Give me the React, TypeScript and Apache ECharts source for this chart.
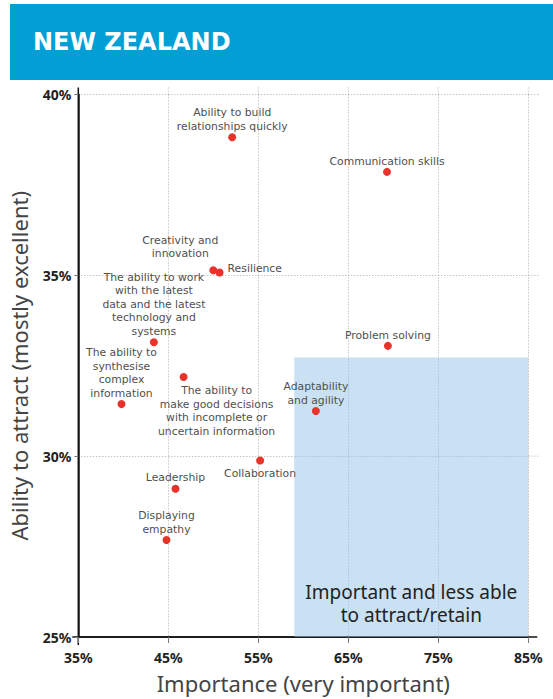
import React, { useEffect, useRef } from "react";
import * as echarts from "echarts";

// ---- data ----
const skills = [
  "Ability to build\nrelationships quickly",
  "Communication skills",
  "Creativity and\ninnovation",
  "Resilience",
  "The ability to work\nwith the latest\ndata and the latest\ntechnology and\nsystems",
  "The ability to\nmake good decisions\nwith incomplete or\nuncertain information",
  "The ability to\nsynthesise\ncomplex\ninformation",
  "Problem solving",
  "Adaptability\nand agility",
  "Collaboration",
  "Leadership",
  "Displaying\nempathy",
];
const importance = [52.1, 69.3, 50.0, 50.7, 43.4, 46.7, 39.8, 69.4, 61.4, 55.2, 45.8, 44.8];
const attract = [38.82, 37.86, 35.14, 35.08, 33.15, 32.19, 31.44, 33.05, 31.25, 29.88, 29.1, 27.68];

const xTicks = [35, 45, 55, 65, 75, 85];
const yTicks = [25, 30, 35, 40];
const quadrantX = [59, 85];
const quadrantY = [25, 32.73];
const quadrantLabel = "Important and less able\nto attract/retain";
const title = "NEW ZEALAND";
const xName = "Importance (very important)";
const yName = "Ability to attract (mostly excellent)";

// ---- label placement (style only) ----
const placements: Record<string, { position: any; distance: number; offset: number[] }> = {
  "Creativity and\ninnovation": { position: "top", distance: 1, offset: [-33, -5] },
  Resilience: { position: "right", distance: 4, offset: [0, -4] },
  "The ability to\nmake good decisions\nwith incomplete or\nuncertain information": {
    position: "bottom",
    distance: 3,
    offset: [33, 0],
  },
  Collaboration: { position: "bottom", distance: 2.5, offset: [0, 0] },
};

export default function App() {
  const ref = useRef<HTMLDivElement>(null);
  useEffect(() => {
    if (!ref.current) return;
    const chart = echarts.init(ref.current, undefined, { renderer: "svg" });
    const labelFont = "'Noto Sans', sans-serif";
    const pointFont = "'DejaVu Sans', sans-serif";
    const data = skills.map((name, i) => {
      const p = placements[name] || { position: "top", distance: 0, offset: [0, 0] };
      return {
        name,
        value: [importance[i], attract[i]],
        label: {
          show: true,
          position: p.position,
          distance: p.distance,
          offset: p.offset,
          formatter: "{b}",
          align: p.position === "right" ? "left" : "center",
        },
      };
    });
    const header = [
      {
        type: "rect",
        shape: { x: 10, y: 4, width: 543, height: 76 },
        style: { fill: "#029fd6" },
        silent: true,
      },
      {
        type: "text",
        x: 33,
        y: 42,
        style: {
          text: title,
          fill: "#ffffff",
          font: "bold 24px 'DejaVu Sans', sans-serif",
          verticalAlign: "middle",
        },
        silent: true,
      },
    ];
    chart.setOption({
      animation: false,
      backgroundColor: "#ffffff",
      grid: { left: 78.3, right: 24.7, top: 94.5, bottom: 60, containLabel: false },
      graphic: header,
      xAxis: {
        type: "value",
        min: xTicks[0],
        max: xTicks[xTicks.length - 1],
        interval: 10,
        name: xName,
        nameLocation: "middle",
        nameGap: 35,
        nameTextStyle: { fontFamily: labelFont, fontSize: 22, color: "#444" },
        axisLine: { show: true, onZero: false, lineStyle: { color: "#111", width: 1.5 } },
        axisTick: { show: true, length: 6, lineStyle: { color: "#777" } },
        axisLabel: {
          margin: 13,
          formatter: "{value}%",
          fontFamily: labelFont,
          fontWeight: "bold",
          fontSize: 14,
          color: "#222",
        },
        splitLine: { show: true, lineStyle: { color: "#aaa", type: [1, 2], width: 1 } },
      },
      yAxis: {
        type: "value",
        min: yTicks[0],
        max: yTicks[yTicks.length - 1],
        interval: 5,
        name: yName,
        nameLocation: "middle",
        nameGap: 48,
        nameTextStyle: { fontFamily: labelFont, fontSize: 22, color: "#444" },
        axisLine: { show: true, onZero: false, lineStyle: { color: "#111", width: 1.5 } },
        axisTick: { show: true, length: 4, lineStyle: { color: "#777" } },
        axisLabel: {
          margin: 7,
          formatter: "{value}%",
          fontFamily: labelFont,
          fontWeight: "bold",
          fontSize: 14,
          color: "#222",
        },
        splitLine: { show: true, lineStyle: { color: "#aaa", type: [1, 2], width: 1 } },
      },
      series: [
        {
          type: "scatter",
          symbolSize: 8,
          itemStyle: { color: "#e8322a", opacity: 1 },
          label: {
            fontFamily: pointFont,
            fontSize: 10.8,
            lineHeight: 13.5,
            color: "#505050",
          },
          emphasis: { disabled: true },
          z: 5,
          data,
          markArea: {
            silent: true,
            itemStyle: { color: "rgba(149,195,231,0.5)" },
            label: {
              show: true,
              position: "insideBottom",
              distance: 10,
              formatter: quadrantLabel,
              fontFamily: labelFont,
              fontSize: 19,
              lineHeight: 23.5,
              color: "#222",
              align: "center",
            },
            data: [
              [
                { xAxis: quadrantX[0], yAxis: quadrantY[0] },
                { xAxis: quadrantX[1], yAxis: quadrantY[1] },
              ],
            ],
          },
        },
      ],
    });

    // small overshoots of axis lines and gridlines past the plot edges
    const xMin = xTicks[0];
    const xMax = xTicks[xTicks.length - 1];
    const yMin = yTicks[0];
    const yMax = yTicks[yTicks.length - 1];
    const [leftPx, topPx] = chart.convertToPixel({ gridIndex: 0 }, [xMin, yMax]) as number[];
    const [rightPx, bottomPx] = chart.convertToPixel({ gridIndex: 0 }, [xMax, yMin]) as number[];
    const extras: any[] = [];
    xTicks.slice(1).forEach((t) => {
      const px = (chart.convertToPixel({ gridIndex: 0 }, [t, yMax]) as number[])[0];
      extras.push({
        type: "line",
        shape: { x1: px, y1: topPx - 7, x2: px, y2: topPx },
        style: { stroke: "#aaa", lineWidth: 1, lineDash: [1, 2] },
        silent: true,
      });
    });
    yTicks.slice(1).forEach((t) => {
      const py = (chart.convertToPixel({ gridIndex: 0 }, [xMax, t]) as number[])[1];
      extras.push({
        type: "line",
        shape: { x1: rightPx, y1: py, x2: rightPx + 12, y2: py },
        style: { stroke: "#aaa", lineWidth: 1, lineDash: [1, 2] },
        silent: true,
      });
    });
    extras.push({
      type: "line",
      shape: { x1: leftPx, y1: topPx - 7, x2: leftPx, y2: bottomPx + 8 },
      style: { stroke: "#111", lineWidth: 1.5 },
      silent: true,
    });
    extras.push({
      type: "line",
      shape: { x1: leftPx - 6, y1: bottomPx, x2: rightPx + 9, y2: bottomPx },
      style: { stroke: "#111", lineWidth: 1.5 },
      silent: true,
    });
    chart.setOption({ graphic: [...header, ...extras] }, { replaceMerge: ["graphic"] });

    return () => chart.dispose();
  }, []);
  return (
    <div
      ref={ref}
      style={{ position: "fixed", left: 0, top: 0, width: 553, height: 699 }}
    />
  );
}
